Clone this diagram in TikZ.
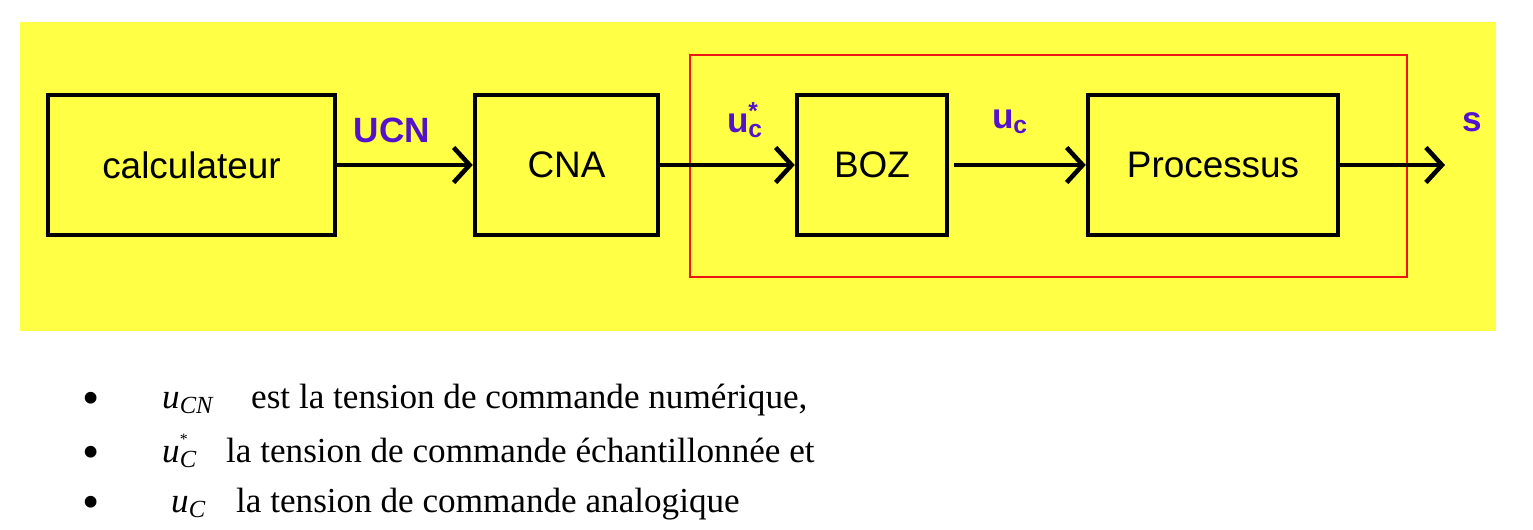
\documentclass[tikz,border=0pt]{standalone}
\usepackage{fontspec}
\setmainfont{Liberation Serif}
\setsansfont{Liberation Sans}
\usetikzlibrary{arrows.meta, positioning}
\definecolor{Jaune}{rgb}{1, 1, 0.27}
\definecolor{Violet}{rgb}{0.33, 0.07, 0.80}
\definecolor{Rouge}{rgb}{0.93, 0.08, 0.08}

\begin{document}
\begin{tikzpicture}[x=0.02cm, y=-0.02cm,
    font=\sffamily,
    bloc/.style={draw=black, line width=2.6pt, inner sep=0pt, minimum height=2.8cm,
        font=\sffamily\fontsize{21}{24}\selectfont},
    fleche/.style={line width=2.6pt, -{Straight Barb[length=3.2mm, width=7mm]}},
    signal/.style={text=Violet, font=\sffamily\bfseries\fontsize{20}{22}\selectfont},
    ligne/.style={anchor=base west, font=\fontsize{20}{22}\selectfont},
]
\useasboundingbox (0,0) rectangle (1533,529);

% ---- fond ----
\fill[Jaune] (20,22) rectangle (1496,331);

% ---- blocs ----
\node[bloc, minimum width=5.74cm] (calc) at (191.5,165) {calculateur};
\node[bloc, minimum width=3.66cm] (cna)  at (566.5,165) {CNA};
\node[bloc, minimum width=3.0cm]  (boz)  at (872,165)   {BOZ};
\node[bloc, minimum width=5.0cm]  (proc) at (1213,165)  {Processus};
\coordinate (sortie) at (1445,165);

% ---- cadre rouge ----
\draw[Rouge, line width=1.4pt] (690,55) rectangle (1407,277);

% ---- liaisons ----
\draw[fleche] (calc.east) -- (cna.west);
\draw[fleche] (cna.east) -- (boz.west);
\draw[fleche] ([xshift=0.1cm]boz.east) -- (proc.west);
\draw[fleche] (proc.east) -- (sortie);

\node[signal] (ucn)  at (392,130)  {UCN};
\node[signal] (ucs)  at (745,120)  {u\rlap{\textsuperscript{*}}\textsubscript{c}};
\node[signal] (uc)   at (1010,122) {u\textsubscript{c}};
\node[signal] (s)    at (1472,122) {s};

% ---- legende ----
\foreach \y/\m/\xm/\xt/\txt [count=\i] in {%
    408/{\textit{u}\textsubscript{\textit{CN}}}/156/245/{est la tension de commande numérique,},
    462/{\textit{u}\rlap{\raisebox{1.1ex}{\small*}}\textsubscript{\textit{C}}}/156/220/{la tension de commande échantillonnée et},
    512/{\textit{u}\textsubscript{\textit{C}}}/165/230/{la tension de commande analogique}}{
    \node[ligne] (puce\i) at (76,\y+6) {\fontsize{28}{28}\selectfont•};
    \node[ligne] (var\i)  at (\xm,\y) {\m};
    \node[ligne] (txt\i)  at (\xt,\y) {\txt};
}

\end{tikzpicture}
\end{document}
